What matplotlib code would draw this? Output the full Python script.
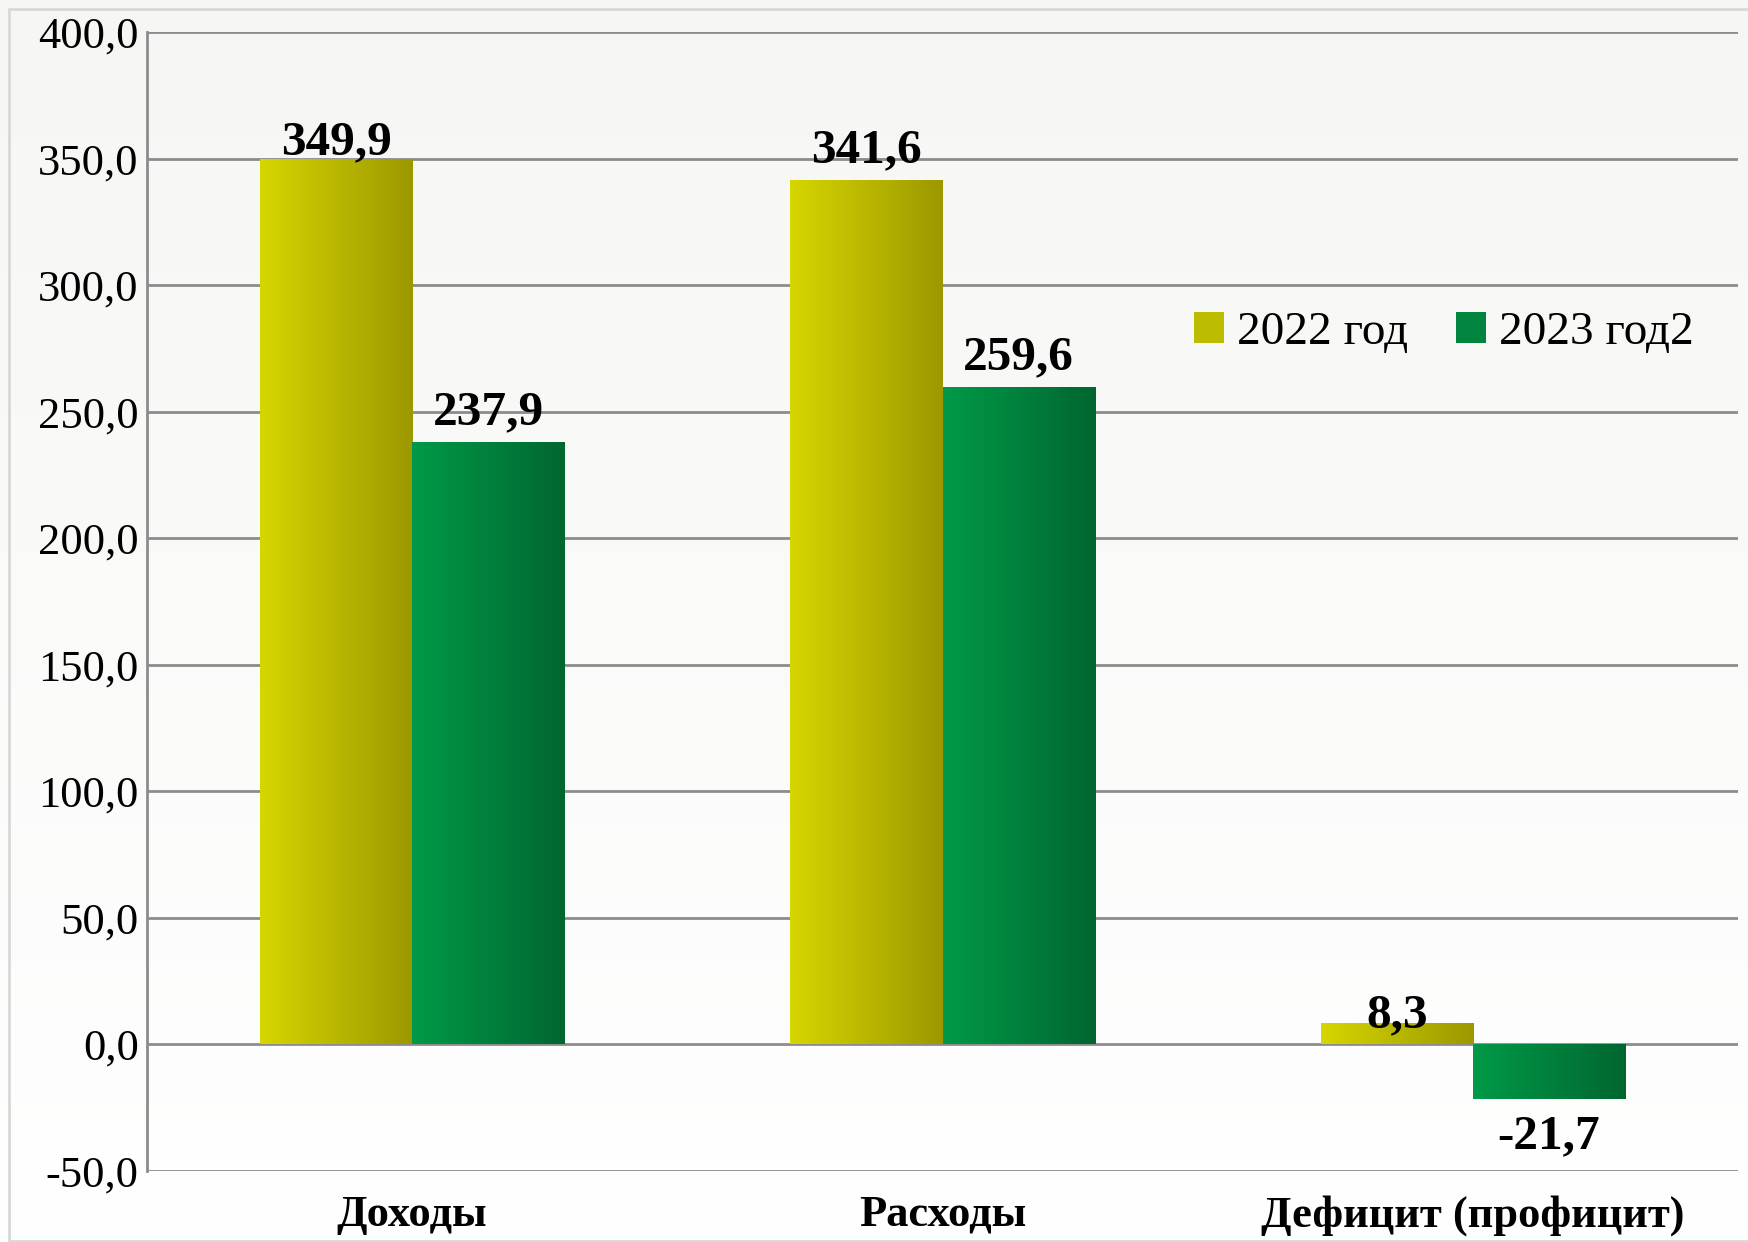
import numpy as np
import matplotlib
matplotlib.use('Agg')
import matplotlib.pyplot as plt
from matplotlib.patches import Rectangle, Patch
from matplotlib.colors import LinearSegmentedColormap
from matplotlib.ticker import FuncFormatter

plt.rcParams['font.family'] = ['Liberation Serif', 'DejaVu Serif']

categories = ['Доходы', 'Расходы', 'Дефицит (профицит)']
series_names = ['2022 год', '2023 год2']
values_2022 = [349.9, 341.6, 8.3]
values_2023 = [237.9, 259.6, -21.7]

# décalage vertical des étiquettes (points)
offsets_2022 = [3.5, 12.5, -3]
offsets_2023 = [13, 13, -11]

# couleurs des dégradés (gauche -> droite)
grad_2022 = ['#d6d600', '#9c9800']
grad_2023 = ['#009a48', '#006630']

W, H = 1748, 1242
fig = plt.figure(figsize=(W / 100, H / 100), dpi=100)

# fond dégradé + cadre
bg = fig.add_axes([0, 0, 1, 1], zorder=-2)
grad = np.linspace(0, 1, 256).reshape(-1, 1)
bg.imshow(grad, aspect='auto', extent=[0, 1, 0, 1],
          cmap=LinearSegmentedColormap.from_list('bg', ['#ffffff', '#f6f6f4']),
          origin='lower')
bg.add_patch(Rectangle((9 / W, 1 / H), 1.0, 1 - 10 / H, fill=False,
                       edgecolor='#d8d8d8', linewidth=2))
bg.set_xlim(0, 1)
bg.set_ylim(0, 1)
bg.axis('off')

ax = fig.add_axes([147 / W, 1 - 1171 / H, (1738 - 147) / W, (1171 - 32) / H])
ax.patch.set_alpha(0)

x = np.arange(len(categories))
w = 0.287

def gradient_bars(xpos, vals, colors):
    cmap = LinearSegmentedColormap.from_list('g', colors)
    bars = ax.bar(xpos, vals, w, color='none', edgecolor='none', zorder=3)
    g = np.linspace(0, 1, 256).reshape(1, -1)
    for b in bars:
        x0, y0 = b.get_x(), b.get_y()
        x1, y1 = x0 + b.get_width(), y0 + b.get_height()
        im = ax.imshow(g, aspect='auto', cmap=cmap,
                       extent=[x0, x1, min(y0, y1), max(y0, y1)], zorder=3)
        im.set_clip_path(b)
    return bars

bars1 = gradient_bars(x - w / 2, values_2022, grad_2022)
bars2 = gradient_bars(x + w / 2, values_2023, grad_2023)
ax.set_xlim(-0.5, len(categories) - 0.5)
ax.set_ylim(-50, 400)

# étiquettes de valeurs
def fmt(v):
    return f'{v:.1f}'.replace('.', ',')

for bars, vals, offs in [(bars1, values_2022, offsets_2022),
                         (bars2, values_2023, offsets_2023)]:
    for b, v, o in zip(bars, vals, offs):
        cx = b.get_x() + b.get_width() / 2
        ax.annotate(fmt(v), (cx, v), xytext=(0, o), textcoords='offset points',
                    ha='center', va='baseline' if v >= 0 else 'top',
                    fontsize=35.5, fontweight='bold', zorder=5)

# axes et grille
ax.set_yticks(np.arange(-50, 401, 50))
ax.yaxis.set_major_formatter(FuncFormatter(lambda v, p: fmt(v)))
ax.grid(axis='y', color='#8c8c8c', linewidth=2, zorder=1)
ax.set_axisbelow(True)
for s in ['top', 'right', 'bottom']:
    ax.spines[s].set_visible(False)
ax.spines['left'].set_color('#8c8c8c')
ax.spines['left'].set_linewidth(2)
ax.tick_params(axis='y', length=0, pad=6, labelsize=32)
ax.set_xticks(x)
ax.set_xticklabels(categories, fontsize=32, fontweight='bold')
ax.tick_params(axis='x', length=0, pad=17)

handles = [Patch(facecolor='#bcbc00', edgecolor='none'),
           Patch(facecolor='#00843e', edgecolor='none')]
ax.legend(handles, series_names, loc='center left', bbox_to_anchor=(0.658, 0.736),
          ncol=2, frameon=False, fontsize=34, handlelength=0.64, handleheight=0.64,
          handletextpad=0.28, columnspacing=1.0, borderpad=0, borderaxespad=0)

fig.savefig('out.png', dpi=100)
